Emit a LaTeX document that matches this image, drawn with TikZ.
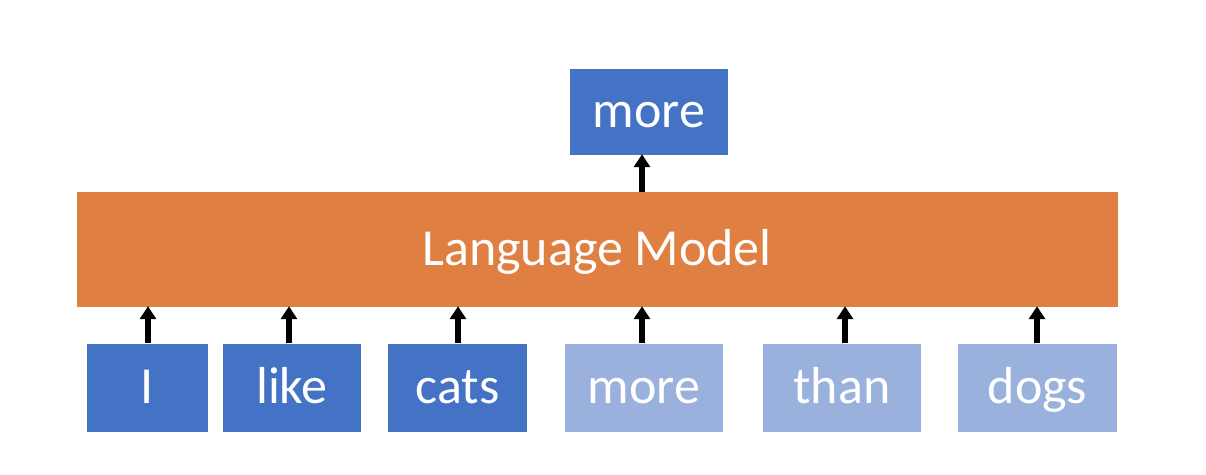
\documentclass[tikz,border=0pt]{standalone}
\usepackage{fontspec}
\setmainfont{Carlito}
\usetikzlibrary{arrows.meta}
\definecolor{dkblue}{HTML}{4472C4}
\definecolor{ltblue}{HTML}{9AB0DD}
\definecolor{lmorange}{HTML}{DF7F41}
\tikzset{
  tok/.style={fill=#1, draw=none, text=white, font=\fontsize{52}{62}\selectfont,
    inner sep=0pt, text height=36pt, text depth=5pt},
  upar/.style={-{Triangle[width=16pt,length=13pt]}, line width=5.5pt, black, shorten >=-1pt}
}
\begin{document}
\begin{tikzpicture}[x=1pt,y=-1pt]
\useasboundingbox (0,0) rectangle (1206,474);
% language model
\node[tok=lmorange, minimum width=1041pt, minimum height=115pt] (lm) at (597,249.5) {Language Model};
% output
\node[tok=dkblue, minimum width=158pt, minimum height=86pt] (out) at (649,112) {more};
% inputs
\node[tok=dkblue, minimum width=121pt, minimum height=88pt] (w1) at (147.5,387.5) {I};
\node[tok=dkblue, minimum width=138pt, minimum height=88pt] (w2) at (292,387.5) {like};
\node[tok=dkblue, minimum width=139pt, minimum height=88pt] (w3) at (457.5,387.5) {cats};
\node[tok=ltblue, minimum width=158pt, minimum height=88pt] (w4) at (644,387.5) {more};
\node[tok=ltblue, minimum width=158pt, minimum height=88pt] (w5) at (842,387.5) {than};
\node[tok=ltblue, minimum width=159pt, minimum height=88pt] (w6) at (1037.5,387.5) {dogs};
% arrows
\draw[upar] (lm.north -| 642,0) -- (out.south -| 642,0);
\foreach \n/\x in {w1/148,w2/289,w3/458,w4/642,w5/845,w6/1037}{
  \draw[upar] (\n.north -| \x,0) -- (lm.south -| \x,0);
}
\end{tikzpicture}
\end{document}
